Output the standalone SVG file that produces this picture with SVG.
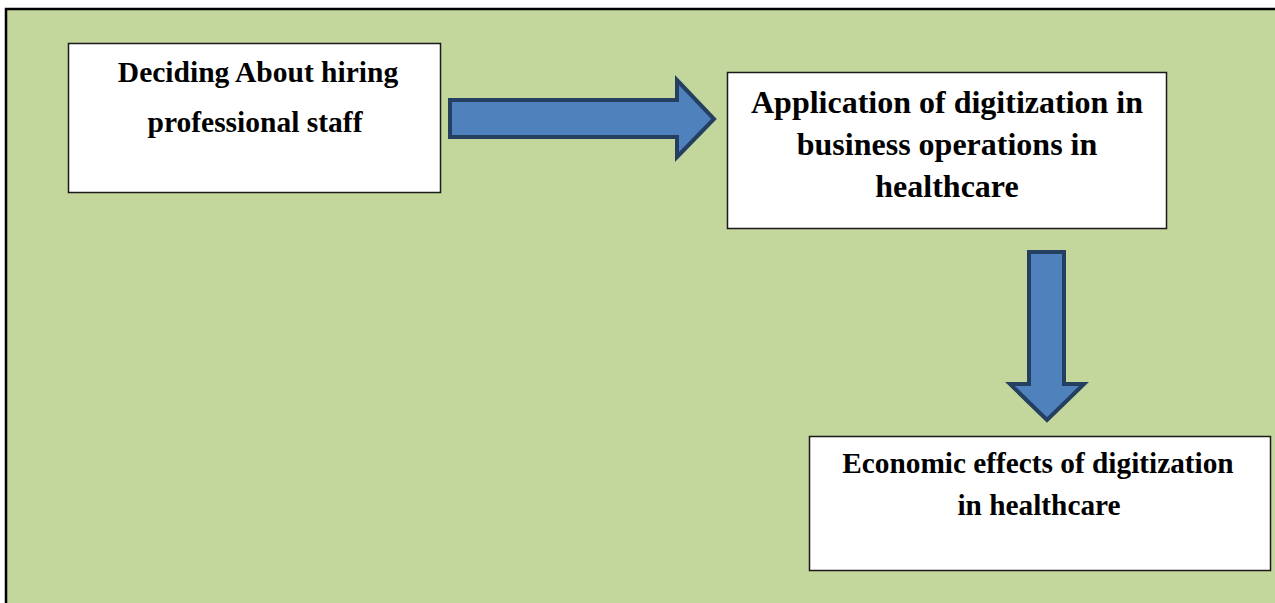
<svg xmlns="http://www.w3.org/2000/svg" width="1275" height="603" viewBox="0 0 1275 603">
<style>
.box{fill:#ffffff;stroke:#1a1a1a;stroke-width:1.5}
.t{font-family:"Liberation Serif","Times New Roman",serif;font-weight:bold;fill:#000;text-anchor:middle}
.arr{fill:#4f81bd;stroke:#243f60;stroke-width:4;stroke-linejoin:miter}
</style>
<rect x="0" y="0" width="1275" height="603" fill="#ffffff"/>
<rect x="6" y="9" width="1275" height="600" fill="#c3d69b" stroke="#000" stroke-width="2.5"/>
<g id="connectors">
<path class="arr" d="M450,100 L677,100 L677,80 L714,119 L677,157 L677,137 L450,137 Z"/>
<path class="arr" d="M1029,252 L1064,252 L1064,384 L1084,384 L1047,420 L1010,384 L1029,384 Z"/>
</g>
<g id="node1">
<rect class="box" x="68.5" y="43.5" width="372" height="149"/>
<text class="t" x="258" y="82" font-size="29.5">Deciding About hiring</text>
<text class="t" x="255" y="132" font-size="29.5">professional staff</text>
</g>
<g id="node2">
<rect class="box" x="727.5" y="72.5" width="439" height="156"/>
<text class="t" x="947" y="113" font-size="32">Application of digitization in</text>
<text class="t" x="947" y="155" font-size="32">business operations in</text>
<text class="t" x="947" y="197" font-size="32">healthcare</text>
</g>
<g id="node3">
<rect class="box" x="809.5" y="436.5" width="461" height="134" stroke-width="2"/>
<text class="t" x="1038" y="473" font-size="29.3">Economic effects of digitization</text>
<text class="t" x="1039" y="515" font-size="29.3">in healthcare</text>
</g>
</svg>
